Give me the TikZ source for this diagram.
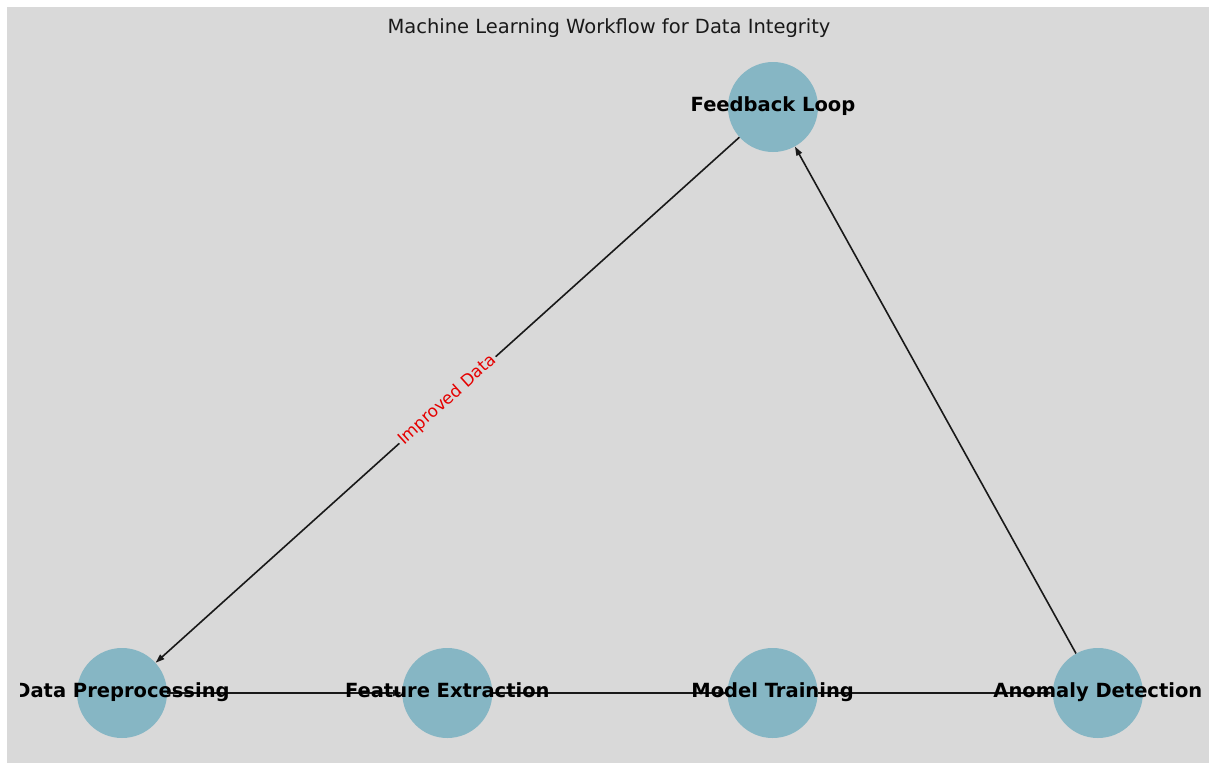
\documentclass[tikz,border=0pt]{standalone}
\usepackage{fontspec}
\setmainfont{DejaVu Sans}
\usepackage{xcolor}
\usetikzlibrary{arrows.meta,positioning}
\definecolor{panelgray}{RGB}{217,217,217}
\definecolor{nodeblue}{RGB}{134,182,196}

\begin{document}
\begin{tikzpicture}[x=1pt,y=-1pt]
            \tikzset{Vertex/.style={%
                shape=circle,%
                fill=nodeblue,%
                minimum size=90pt,%
                inner sep=0pt,%
                node distance=325.3pt,%
            }}
            \tikzset{Label/.style={%
                font=\fontsize{19.5}{23}\selectfont\bfseries,%
                text=black,%
                text height=14.5pt,%
                text depth=4.7pt,%
                inner sep=0pt,%
            }}
            \tikzset{Flow/.style={%
                draw=black!90,%
                line width=1.6pt,%
                -{Triangle[length=9pt,width=6pt]},%
            }}

            \useasboundingbox (0,0) rectangle (1209,763);
            \fill[white] (0,0) rectangle (1209,763);
            \fill[panelgray] (7,7) rectangle (1209,763);
            \node[font=\fontsize{19.5}{23}\selectfont, text=black!90] (title) at (609,28) {Machine Learning Workflow for Data Integrity};

            \node[Vertex] (dp) at (122,693) {};
            \node[Vertex, right of=dp] (fe) {};
            \node[Vertex, right of=fe] (mt) {};
            \node[Vertex, right of=mt] (ad) {};
            \node[Vertex] (fl) at (773,107) {};

            \path (dp) edge[Flow] (fe);
            \path (fe) edge[Flow] (mt);
            \path (mt) edge[Flow] (ad);
            \path (ad) edge[Flow] (fl);
            \path (fl) edge[Flow] node[midway, sloped, fill=panelgray, text=red!90!black, inner sep=2pt, font=\fontsize{16.8}{20}\selectfont]{Improved Data} (dp);

            \begin{scope}
                \clip (20,7) rectangle (1201,763);
                \node[Label] (dpl) at (dp) {Data Preprocessing};
                \node[Label] (fel) at (fe) {Feature Extraction};
                \node[Label] (mtl) at (mt) {Model Training};
                \node[Label] (adl) at (ad) {Anomaly Detection};
                \node[Label] (fll) at (fl) {Feedback Loop};
            \end{scope}
        \end{tikzpicture}
\end{document}
